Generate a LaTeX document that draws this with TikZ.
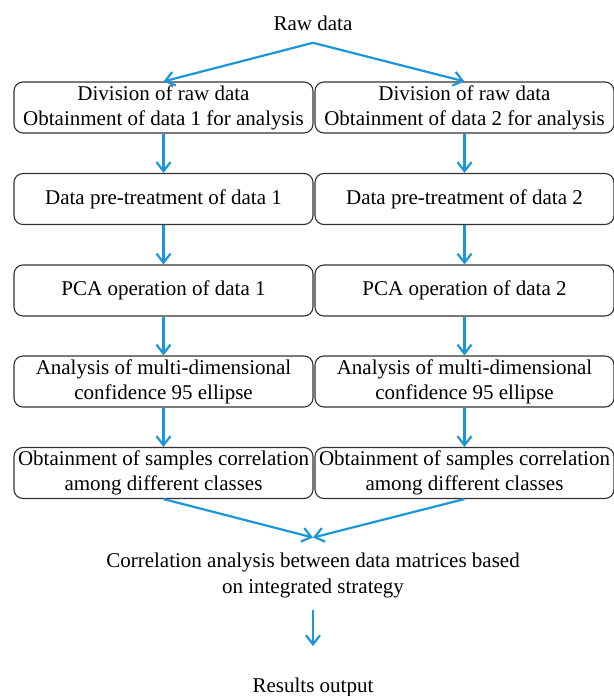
\documentclass[tikz,border=0pt]{standalone}
\usepackage{fontspec}
\setmainfont{Liberation Serif}
\usetikzlibrary{arrows.meta}
\definecolor{flowblue}{RGB}{27,150,218}
\definecolor{box-gray}{gray}{0.2}

\begin{document}
\begin{tikzpicture}[ >={Straight Barb[length=4.5pt,width=7pt]}, x=0.5pt, y=-0.5pt,
	stepbox/.style={draw=box-gray, line width=0.55pt, rounded corners=4.5pt, minimum width=149.5pt, minimum height=25.5pt, inner sep=0pt, align=center, font=\fontsize{10.5}{12.6}\selectfont},
	plain/.style={inner sep=0pt, align=center, font=\fontsize{10.5}{13}\selectfont},
	flow/.style={->, color=flowblue, line width=1.1pt}]

			\useasboundingbox (0,0) rectangle (614,696);

			\node[plain] (raw) at (313,23) {Raw data};

			% two columns, one per data set
			\foreach \s/\x/\n in {l/163.5/1, r/464.5/2}{
				\node[stepbox] (\s1) at (\x,107.5) {Division of raw data\\Obtainment of data \n\ for analysis};
				\node[stepbox] (\s2) at (\x,199) {Data pre-treatment of data \n};
				\node[stepbox] (\s3) at (\x,290.5) {PCA operation of data \n};
				\node[stepbox] (\s4) at (\x,381.5) {Analysis of multi-dimensional\\confidence 95 ellipse};
				\node[stepbox] (\s5) at (\x,473) {Obtainment of samples correlation\\among different classes};
				\draw[flow] (\s1)--(\s2);
				\draw[flow] (\s2)--(\s3);
				\draw[flow] (\s3)--(\s4);
				\draw[flow] (\s4)--(\s5);
			}

			\node[plain] (corr) at (313,575.5) {Correlation analysis between data matrices based\\on integrated strategy};
			\node[plain] (out) at (313,687) {Results output};

			\draw[flow] ([yshift=-6pt]raw.south)--(l1.north);
			\draw[flow] ([yshift=-6pt]raw.south)--(r1.north);
			\draw[flow] (l5.south)--([yshift=7.5pt]corr.north);
			\draw[flow] (r5.south)--([yshift=7.5pt]corr.north);
			\draw[flow] ([yshift=-6pt]corr.south)--([yshift=15.5pt]out.north);

\end{tikzpicture}
\end{document}
